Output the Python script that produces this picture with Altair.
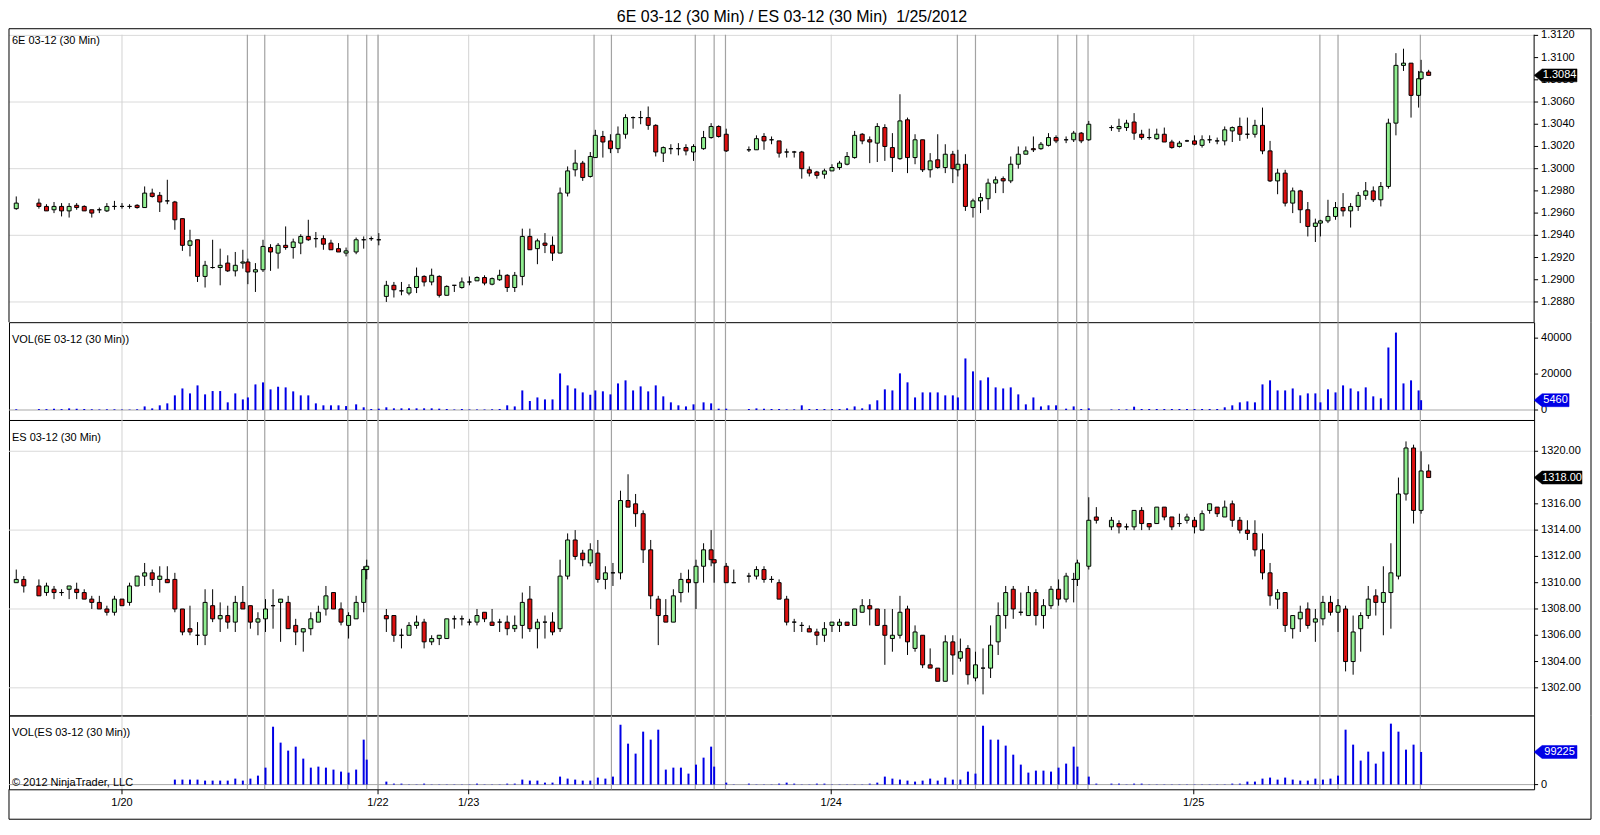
import altair as alt
import pandas as pd

FONT = "Liberation Sans"
TITLE = "6E 03-12 (30 Min) / ES 03-12 (30 Min) \u00a01/25/2012"
GREEN = "#90ee90"
RED = "#dc1010"
BLUE = "#0000e6"


def span(a, b, off=0.0):
    return [round(i + off, 3) for i in range(a, b + 1)]


# ---------------- bar time slots (30-min bars, pit-session 6E bars close at :20/:50) -------------
E_T = ([0] + span(3, 30) + span(31, 44, -1 / 3) + span(45, 48)
       + span(49, 76) + span(77, 90, -1 / 3) + span(91, 94)
       + span(97, 124) + span(125, 138, -1 / 3) + span(139, 142)
       + span(145, 172) + span(173, 186, -1 / 3) + [186, 187])

ES_T = (span(0, 1) + span(3, 46) + [46.4] + span(49, 92) + [92.4] + span(94, 95)
        + span(97, 140) + [140.5] + span(142, 143) + span(145, 187))

# ---------------- 6E 03-12 ----------------
E_OPEN = [1.2964, 1.2969, 1.2966, 1.2963, 1.2966, 1.2962, 1.2967, 1.2966, 1.2963, 1.2963,
          1.2962, 1.2966, 1.2966, 1.2966, 1.2967, 1.2965, 1.2978, 1.2976, 1.2971, 1.2970,
          1.2955, 1.2931, 1.2936, 1.2903, 1.2911, 1.2911, 1.2915, 1.2908, 1.2915, 1.2916,
          1.2907, 1.2909, 1.2929, 1.2924, 1.2931, 1.2929, 1.2933, 1.2939, 1.2937, 1.2937,
          1.2933, 1.2928, 1.2924, 1.2925, 1.2936, 1.2937, 1.2936,
          1.2885, 1.2895, 1.2890, 1.2888, 1.2893, 1.2903, 1.2898, 1.2903, 1.2886, 1.2895,
          1.2893, 1.2898, 1.2899, 1.2902, 1.2896, 1.2900, 1.2904, 1.2893, 1.2903, 1.2939,
          1.2928, 1.2933, 1.2931, 1.2924, 1.2978, 1.2999, 1.3005, 1.2993, 1.3010, 1.3029,
          1.3025, 1.3018, 1.3031, 1.3046, 1.3046, 1.3046, 1.3039, 1.3014, 1.3018, 1.3018,
          1.3019, 1.3015, 1.3018, 1.3028, 1.3038, 1.3031,
          1.3017, 1.3017, 1.3029, 1.3026, 1.3025, 1.3015, 1.3015, 1.3015, 1.2999, 1.2997,
          1.2995, 1.2998, 1.3001, 1.3004, 1.3010, 1.3031, 1.3026, 1.3023, 1.3037, 1.3019,
          1.3009, 1.3044, 1.3010, 1.3026, 1.2999, 1.3008, 1.3001, 1.3013, 1.2999, 1.3004,
          1.2965, 1.2971, 1.2973, 1.2987, 1.2991, 1.2989, 1.3004, 1.3013, 1.3018, 1.3018,
          1.3021, 1.3028, 1.3026, 1.3026, 1.3032, 1.3026,
          1.3037, 1.3036, 1.3037, 1.3042, 1.3031, 1.3028, 1.3027, 1.3031, 1.3024, 1.3020,
          1.3025, 1.3025, 1.3021, 1.3026, 1.3025, 1.3025, 1.3034, 1.3038, 1.3031, 1.3031,
          1.3039, 1.3016, 1.2989, 1.2996, 1.2969, 1.2980, 1.2963, 1.2948, 1.2951, 1.2953,
          1.2957, 1.2965, 1.2962, 1.2966, 1.2976, 1.2980, 1.2972, 1.2984, 1.3041, 1.3093,
          1.3095, 1.3066, 1.3081, 1.3087]
E_HIGH = [1.2975, 1.2973, 1.2968, 1.2970, 1.2969, 1.2969, 1.2969, 1.2967, 1.2963, 1.2965,
          1.2969, 1.2971, 1.2969, 1.2968, 1.2968, 1.2984, 1.2982, 1.2979, 1.2990, 1.2971,
          1.2955, 1.2945, 1.2936, 1.2917, 1.2936, 1.2928, 1.2922, 1.2925, 1.2927, 1.2919,
          1.2915, 1.2936, 1.2932, 1.2933, 1.2948, 1.2937, 1.2941, 1.2954, 1.2943, 1.2940,
          1.2936, 1.2933, 1.2929, 1.2938, 1.2939, 1.2939, 1.2942,
          1.2899, 1.2898, 1.2898, 1.2896, 1.2911, 1.2904, 1.2910, 1.2904, 1.2895, 1.2895,
          1.2902, 1.2903, 1.2903, 1.2904, 1.2902, 1.2909, 1.2905, 1.2907, 1.2946, 1.2946,
          1.2937, 1.2942, 1.2939, 1.2983, 1.3002, 1.3017, 1.3007, 1.3015, 1.3035, 1.3034,
          1.3031, 1.3038, 1.3049, 1.3047, 1.3052, 1.3056, 1.3040, 1.3020, 1.3022, 1.3023,
          1.3022, 1.3022, 1.3034, 1.3041, 1.3039, 1.3036,
          1.3020, 1.3030, 1.3032, 1.3029, 1.3025, 1.3018, 1.3016, 1.3016, 1.3002, 1.2998,
          1.3000, 1.3004, 1.3007, 1.3015, 1.3034, 1.3032, 1.3029, 1.3041, 1.3040, 1.3032,
          1.3067, 1.3046, 1.3031, 1.3026, 1.3014, 1.3031, 1.3022, 1.3016, 1.3017, 1.3013,
          1.2973, 1.2978, 1.2991, 1.2993, 1.2993, 1.3011, 1.3020, 1.3020, 1.3029, 1.3024,
          1.3032, 1.3030, 1.3029, 1.3034, 1.3033, 1.3043,
          1.3039, 1.3045, 1.3044, 1.3050, 1.3035, 1.3036, 1.3036, 1.3037, 1.3026, 1.3025,
          1.3026, 1.3030, 1.3030, 1.3030, 1.3028, 1.3038, 1.3038, 1.3046, 1.3046, 1.3044,
          1.3055, 1.3025, 1.3000, 1.2999, 1.2983, 1.2981, 1.2970, 1.2955, 1.2954, 1.2972,
          1.2970, 1.2978, 1.2969, 1.2979, 1.2988, 1.2984, 1.2988, 1.3045, 1.3104, 1.3108,
          1.3095, 1.3088, 1.3098, 1.3089]
E_LOW = [1.2963, 1.2964, 1.2962, 1.2960, 1.2957, 1.2956, 1.2963, 1.2962, 1.2956, 1.2960,
         1.2961, 1.2963, 1.2964, 1.2964, 1.2964, 1.2965, 1.2974, 1.2961, 1.2968, 1.2945,
         1.2926, 1.2921, 1.2898, 1.2893, 1.2910, 1.2895, 1.2907, 1.2903, 1.2910, 1.2896,
         1.2889, 1.2907, 1.2908, 1.2910, 1.2927, 1.2919, 1.2923, 1.2935, 1.2929, 1.2927,
         1.2927, 1.2925, 1.2921, 1.2923, 1.2928, 1.2935, 1.2931,
         1.2880, 1.2884, 1.2886, 1.2886, 1.2888, 1.2894, 1.2895, 1.2884, 1.2886, 1.2889,
         1.2892, 1.2895, 1.2899, 1.2895, 1.2895, 1.2899, 1.2889, 1.2889, 1.2895, 1.2927,
         1.2914, 1.2924, 1.2917, 1.2924, 1.2975, 1.2993, 1.2989, 1.2992, 1.3010, 1.3010,
         1.3014, 1.3014, 1.3027, 1.3036, 1.3040, 1.3035, 1.3011, 1.3006, 1.3013, 1.3012,
         1.3012, 1.3007, 1.3017, 1.3027, 1.3028, 1.3015,
         1.3015, 1.3017, 1.3017, 1.3022, 1.3010, 1.3010, 1.3010, 1.2991, 1.2993, 1.2991,
         1.2991, 1.2998, 1.2999, 1.3003, 1.3009, 1.3022, 1.3005, 1.3006, 1.3007, 1.2997,
         1.3008, 1.2996, 1.3004, 1.2997, 1.2992, 1.3000, 1.2996, 1.2987, 1.2993, 1.2962,
         1.2956, 1.2960, 1.2963, 1.2978, 1.2978, 1.2987, 1.3000, 1.3013, 1.3015, 1.3017,
         1.3020, 1.3023, 1.3023, 1.3024, 1.3023, 1.3025,
         1.3034, 1.3033, 1.3034, 1.3026, 1.3026, 1.3026, 1.3026, 1.3024, 1.3018, 1.3019,
         1.3024, 1.3021, 1.3019, 1.3023, 1.3022, 1.3021, 1.3024, 1.3025, 1.3027, 1.3028,
         1.3013, 1.2988, 1.2977, 1.2966, 1.2960, 1.2951, 1.2939, 1.2934, 1.2939, 1.2951,
         1.2954, 1.2957, 1.2947, 1.2962, 1.2972, 1.2970, 1.2966, 1.2982, 1.3030, 1.3088,
         1.3046, 1.3055, 1.3080, 1.3084]
E_CLOSE = [1.2969, 1.2966, 1.2962, 1.2966, 1.2962, 1.2966, 1.2965, 1.2962, 1.2960, 1.2963,
           1.2966, 1.2966, 1.2966, 1.2966, 1.2965, 1.2978, 1.2975, 1.2970, 1.2971, 1.2954,
           1.2931, 1.2935, 1.2903, 1.2913, 1.2911, 1.2913, 1.2908, 1.2913, 1.2916, 1.2907,
           1.2909, 1.2930, 1.2925, 1.2931, 1.2929, 1.2934, 1.2939, 1.2936, 1.2937, 1.2932,
           1.2927, 1.2925, 1.2926, 1.2936, 1.2936, 1.2937, 1.2936,
           1.2895, 1.2891, 1.2890, 1.2893, 1.2903, 1.2898, 1.2904, 1.2886, 1.2894, 1.2895,
           1.2898, 1.2898, 1.2902, 1.2897, 1.2901, 1.2904, 1.2893, 1.2904, 1.2939, 1.2927,
           1.2935, 1.2931, 1.2924, 1.2978, 1.2998, 1.3005, 1.2992, 1.3011, 1.3030, 1.3024,
           1.3018, 1.3031, 1.3046, 1.3046, 1.3046, 1.3039, 1.3015, 1.3019, 1.3018, 1.3018,
           1.3016, 1.3020, 1.3028, 1.3038, 1.3029, 1.3016,
           1.3017, 1.3027, 1.3025, 1.3026, 1.3014, 1.3015, 1.3015, 1.3000, 1.2996, 1.2994,
           1.2998, 1.3001, 1.3005, 1.3011, 1.3030, 1.3025, 1.3024, 1.3038, 1.3020, 1.3010,
           1.3043, 1.3010, 1.3026, 1.2999, 1.3007, 1.3001, 1.3013, 1.3000, 1.3004, 1.2966,
           1.2971, 1.2974, 1.2987, 1.2990, 1.2989, 1.3004, 1.3013, 1.3016, 1.3017, 1.3022,
           1.3028, 1.3025, 1.3026, 1.3032, 1.3025, 1.3040,
           1.3037, 1.3038, 1.3041, 1.3032, 1.3028, 1.3028, 1.3031, 1.3024, 1.3019, 1.3023,
           1.3025, 1.3022, 1.3026, 1.3026, 1.3025, 1.3035, 1.3037, 1.3031, 1.3031, 1.3039,
           1.3016, 1.2989, 1.2996, 1.2969, 1.2980, 1.2963, 1.2948, 1.2951, 1.2953, 1.2957,
           1.2965, 1.2962, 1.2966, 1.2976, 1.2980, 1.2972, 1.2984, 1.3041, 1.3093, 1.3095,
           1.3066, 1.3081, 1.3087, 1.3084]
E_VOL = [400, 500, 500, 700, 500, 900, 700, 550, 400, 300,
         400, 400, 250, 250, 400, 2000, 900, 2600, 3700, 8150,
         12000, 9250, 13700, 8700, 10550, 10550, 4260, 9250, 5900, 7000,
         14260, 15370, 11480, 12960, 12590, 10370, 8150, 8150, 3700, 2600,
         2600, 2600, 2200, 3150, 1500, 550, 740,
         1500, 930, 930, 930, 930, 930, 930, 740, 550, 300,
         550, 300, 300, 300, 400, 550, 2600, 2000, 10900, 5000,
         7000, 5900, 5900, 20370, 13700, 12000, 9800, 8500, 10900, 10400,
         8700, 14800, 16500, 10900, 13150, 10370, 13700, 7600, 4260, 2600,
         2000, 3150, 4260, 3700, 740, 740,
         550, 900, 740, 550, 550, 370, 370, 2600, 550, 550,
         550, 550, 550, 930, 2000, 930, 3150, 5400, 11500, 10900,
         20400, 15400, 7000, 9800, 9800, 9800, 8150, 8150, 7000, 28700,
         21500, 16500, 18150, 12600, 12000, 12600, 8700, 3150, 7000, 2000,
         2600, 2600, 740, 2000, 550, 930,
         300, 370, 370, 1850, 550, 550, 550, 550, 550, 550,
         550, 550, 550, 550, 550, 1500, 2600, 4260, 4800, 4260,
         14260, 16500, 10900, 10900, 12000, 8150, 9250, 9250, 4260, 11500,
         9800, 13700, 12000, 10400, 12600, 7600, 6500, 34800, 43100, 14800,
         16500, 10900, 5460, None]

# ---------------- ES 03-12 ----------------
ES_OPEN = [1310.0, 1310.25, 1309.75, 1309.25, 1309.5, 1309.25, 1309.5, 1309.5, 1309.25, 1308.75,
           1308.5, 1308.0, 1307.75, 1308.75, 1308.5, 1309.75, 1310.5, 1310.75, 1310.25, 1310.25,
           1310.25, 1308.0, 1306.5, 1306.0, 1306.0, 1308.25, 1307.25, 1307.5, 1307.0, 1308.5,
           1308.25, 1307.0, 1307.25, 1308.25, 1308.5, 1308.5, 1306.75, 1306.25, 1306.5, 1307.0,
           1308.0, 1309.25, 1308.0, 1306.75, 1307.25, 1308.5, 1311.0,
           1307.5, 1307.5, 1306.0, 1306.0, 1306.75, 1307.0, 1305.5, 1305.75, 1305.75, 1307.25,
           1307.25, 1307.0, 1307.0, 1307.75, 1307.0, 1307.0, 1307.0, 1306.5, 1306.75, 1308.75,
           1306.5, 1307.0, 1307.0, 1306.5, 1310.5, 1313.25, 1312.25, 1311.5, 1312.25, 1310.25,
           1310.75, 1310.75, 1316.25, 1316.0, 1315.25, 1312.5, 1308.75, 1307.5, 1307.0, 1309.25,
           1310.25, 1310.0, 1311.25, 1312.5, 1311.75, 1311.25, 1310.0,
           1310.5, 1310.5, 1311.0, 1310.25, 1310.0, 1308.75, 1307.0, 1306.75, 1306.5, 1306.25,
           1306.0, 1306.75, 1306.75, 1307.0, 1306.75, 1307.75, 1308.25, 1308.0, 1306.75, 1305.75,
           1306.0, 1308.0, 1305.0, 1306.0, 1303.75, 1303.5, 1302.5, 1305.5, 1304.25, 1305.0,
           1302.75, 1303.5, 1303.5, 1305.5, 1307.5, 1309.5, 1307.75, 1307.5, 1309.25, 1307.5,
           1308.25, 1309.5, 1308.75, 1310.25, 1310.25, 1311.25, 1315.0,
           1314.25, 1314.5, 1314.25, 1314.25, 1315.5, 1314.5, 1314.5, 1315.75, 1315.0, 1314.5,
           1314.75, 1314.75, 1314.0, 1315.5, 1315.75, 1315.0, 1316.0, 1314.75, 1314.0, 1313.75,
           1312.5, 1310.75, 1308.75, 1309.25, 1306.5, 1307.25, 1308.0, 1307.0, 1307.25, 1308.5,
           1307.75, 1308.0, 1304.0, 1306.5, 1307.5, 1309.0, 1308.5, 1309.25, 1310.5, 1316.75,
           1320.25, 1315.5, 1318.5]
ES_HIGH = [1311.0, 1310.5, 1310.25, 1310.0, 1309.75, 1309.5, 1309.75, 1310.0, 1309.5, 1309.0,
           1309.0, 1308.25, 1309.0, 1308.75, 1310.0, 1310.5, 1311.5, 1311.0, 1311.25, 1311.25,
           1310.75, 1308.0, 1308.25, 1307.0, 1309.5, 1309.5, 1308.5, 1308.25, 1309.0, 1309.75,
           1308.25, 1307.75, 1308.75, 1309.5, 1308.75, 1309.0, 1307.25, 1306.5, 1307.75, 1308.25,
           1309.75, 1309.25, 1308.5, 1307.75, 1309.0, 1311.25, 1311.75,
           1308.0, 1307.5, 1306.5, 1307.0, 1307.5, 1307.25, 1306.0, 1306.0, 1307.25, 1307.5,
           1307.5, 1307.25, 1308.0, 1307.75, 1308.0, 1307.25, 1307.5, 1307.5, 1309.25, 1309.75,
           1307.25, 1307.5, 1307.75, 1311.75, 1313.75, 1314.0, 1312.5, 1313.0, 1313.25, 1311.25,
           1311.5, 1317.0, 1318.25, 1316.75, 1315.5, 1313.25, 1309.0, 1308.75, 1309.5, 1310.75,
           1311.0, 1311.75, 1313.0, 1314.0, 1311.75, 1311.5, 1311.0,
           1310.75, 1311.25, 1311.25, 1310.5, 1310.25, 1309.0, 1307.25, 1307.0, 1306.75, 1306.5,
           1307.0, 1307.0, 1307.25, 1307.0, 1308.0, 1308.75, 1308.75, 1308.0, 1308.0, 1308.0,
           1309.0, 1308.25, 1306.75, 1306.0, 1305.0, 1303.5, 1306.0, 1306.0, 1305.75, 1305.25,
           1304.75, 1305.0, 1306.75, 1308.5, 1309.75, 1309.75, 1309.25, 1309.75, 1309.5, 1308.75,
           1309.75, 1310.25, 1310.75, 1310.75, 1311.75, 1316.5, 1315.75,
           1315.0, 1314.75, 1314.5, 1315.5, 1315.75, 1314.5, 1315.75, 1315.75, 1315.0, 1315.25,
           1315.25, 1315.0, 1315.5, 1316.0, 1315.75, 1316.25, 1316.25, 1315.0, 1314.75, 1314.75,
           1313.75, 1311.5, 1309.5, 1309.25, 1307.5, 1308.25, 1308.5, 1308.0, 1309.0, 1309.0,
           1308.75, 1308.25, 1307.5, 1307.75, 1309.75, 1309.5, 1311.25, 1313.0, 1318.0, 1320.75,
           1320.5, 1320.0, 1319.0]
ES_LOW = [1310.0, 1309.25, 1309.0, 1309.0, 1308.75, 1309.0, 1308.75, 1308.75, 1308.75, 1308.0,
          1308.0, 1307.5, 1307.5, 1308.25, 1308.25, 1309.75, 1309.75, 1309.75, 1309.25, 1310.0,
          1307.75, 1306.0, 1306.0, 1305.25, 1305.25, 1307.0, 1306.25, 1306.5, 1306.25, 1308.0,
          1306.5, 1306.0, 1306.25, 1306.5, 1305.5, 1306.5, 1305.25, 1304.75, 1306.0, 1307.0,
          1307.5, 1308.0, 1306.75, 1305.75, 1307.25, 1307.75, 1310.25,
          1306.25, 1305.5, 1305.0, 1306.0, 1306.5, 1305.0, 1305.25, 1305.25, 1305.75, 1306.5,
          1306.75, 1306.75, 1306.75, 1307.0, 1306.75, 1306.25, 1306.0, 1306.25, 1305.75, 1306.25,
          1305.0, 1305.75, 1306.0, 1306.25, 1310.25, 1311.75, 1311.25, 1311.25, 1310.0, 1309.5,
          1309.75, 1310.25, 1315.75, 1314.25, 1311.5, 1308.0, 1305.25, 1307.0, 1307.0, 1308.5,
          1309.25, 1308.0, 1310.0, 1311.25, 1310.0, 1310.0, 1310.0,
          1310.0, 1310.25, 1310.0, 1310.0, 1308.75, 1306.75, 1306.25, 1306.25, 1306.25, 1305.25,
          1305.5, 1306.25, 1306.25, 1306.75, 1306.75, 1307.75, 1306.75, 1306.75, 1303.75, 1304.75,
          1305.75, 1304.5, 1304.75, 1303.5, 1303.5, 1302.5, 1302.5, 1303.0, 1304.0, 1302.25,
          1302.5, 1301.5, 1302.75, 1304.5, 1306.5, 1307.25, 1307.5, 1307.5, 1306.75, 1306.5,
          1308.0, 1308.25, 1308.5, 1308.5, 1309.75, 1311.0, 1314.5,
          1314.0, 1313.75, 1314.0, 1314.0, 1314.0, 1314.0, 1314.5, 1314.75, 1314.0, 1314.25,
          1314.5, 1313.75, 1314.0, 1315.25, 1315.0, 1315.0, 1314.25, 1313.75, 1313.25, 1312.0,
          1310.25, 1308.25, 1308.0, 1306.25, 1305.75, 1306.25, 1306.5, 1305.5, 1306.75, 1307.5,
          1306.25, 1303.25, 1303.0, 1304.75, 1307.25, 1307.5, 1306.0, 1306.5, 1310.25, 1316.25,
          1314.5, 1315.25, 1318.0]
ES_CLOSE = [1310.25, 1309.75, 1309.0, 1309.75, 1309.25, 1309.25, 1309.75, 1309.25, 1308.75, 1308.5,
            1308.0, 1307.75, 1308.75, 1308.25, 1309.75, 1310.5, 1310.75, 1310.25, 1310.5, 1310.0,
            1308.0, 1306.25, 1306.25, 1306.0, 1308.5, 1307.25, 1307.5, 1307.0, 1308.5, 1308.0,
            1307.0, 1307.25, 1308.0, 1308.25, 1308.75, 1306.5, 1306.25, 1306.5, 1307.25, 1307.75,
            1309.0, 1308.0, 1307.0, 1307.5, 1308.5, 1311.0, 1311.25,
            1307.25, 1306.0, 1306.0, 1306.75, 1307.0, 1305.5, 1305.75, 1306.0, 1307.25, 1307.25,
            1307.25, 1307.0, 1307.5, 1307.25, 1306.75, 1307.0, 1306.5, 1306.75, 1308.5, 1306.5,
            1307.0, 1307.0, 1306.25, 1310.5, 1313.25, 1312.0, 1311.75, 1312.5, 1310.25, 1310.75,
            1310.75, 1316.25, 1315.75, 1315.25, 1312.5, 1309.0, 1307.5, 1307.0, 1309.0, 1310.25,
            1310.0, 1311.25, 1312.5, 1311.75, 1311.5, 1310.0, 1310.0,
            1310.5, 1311.0, 1310.25, 1310.25, 1308.75, 1307.0, 1307.0, 1306.75, 1306.25, 1306.0,
            1306.5, 1307.0, 1307.0, 1306.75, 1308.0, 1308.25, 1308.0, 1306.75, 1306.0, 1306.0,
            1307.75, 1305.5, 1306.25, 1303.75, 1303.5, 1302.5, 1305.5, 1304.5, 1304.75, 1303.0,
            1303.75, 1303.5, 1305.25, 1307.5, 1309.25, 1308.0, 1307.75, 1309.25, 1307.5, 1308.25,
            1309.5, 1308.75, 1310.5, 1310.25, 1311.5, 1314.75, 1314.75,
            1314.75, 1314.25, 1314.25, 1315.5, 1314.5, 1314.25, 1315.75, 1315.0, 1314.25, 1314.5,
            1315.0, 1314.25, 1315.25, 1316.0, 1315.25, 1315.75, 1314.75, 1314.0, 1313.75, 1312.5,
            1310.75, 1309.0, 1309.25, 1306.75, 1307.5, 1307.75, 1306.75, 1307.25, 1308.5, 1307.75,
            1308.25, 1304.0, 1306.25, 1307.5, 1308.75, 1308.5, 1309.25, 1310.75, 1316.75, 1320.25,
            1315.5, 1318.5, 1318.0]
ES_VOL = ([None] * 20 +
          [15200, 15200, 15200, 15200, 12150, 12150, 12150, 12150, 18200, 12150,
           18200, 27300, 51600, 176000, 127600, 103300, 115400, 79000, 51600, 54700,
           51600, 45600, 39500, 36450, 45600, 136700, 75900,
           9100, 3000, 3000, 800, 800, 3000, 800, 800, 800, 800,
           800, 800, 3000, 800, 800, 800, 3000, 3000, 15200, 12150,
           12150, 6000, 6000, 24300, 18200, 15200, 12150, 12150, 21300, 18200,
           24300, 182000, 124500, 94200, 161000, 136700, 167000, 45600, 51600, 51600,
           33400, 60750, 82000, 115400, 54700, 6000, 800,
           3000, 800, 800, 800, 3000, 6000, 3000, 800, 800, 3000,
           3000, 800, 800, 800, 800, 800, 3000, 6000, 24300, 18200,
           15200, 12150, 9100, 12150, 18200, 12150, 21300, 15200, 15200, 39500,
           33400, 179000, 136700, 136700, 118500, 91000, 60750, 36450, 42500, 42500,
           39500, 51600, 63800, 115400, 54700, 24300, 3000,
           3000, 3000, 800, 3000, 3000, 800, 800, 800, 800, 800,
           800, 800, 800, 800, 800, 800, 3000, 3000, 9100, 9100,
           18200, 21300, 15200, 21300, 15200, 12150, 12150, 18200, 15200, 18200,
           27300, 167000, 121500, 72900, 100200, 63800, 100200, 185300, 161000, 106300,
           121500, 99225, None])

# ---------------- guides ----------------
SESSION_T = [30.6, 32.9, 43.9, 46.4, 47.9, 76.5, 78.8, 89.9, 92.4, 93.9,
             124.6, 127.0, 137.9, 140.4, 141.9, 172.6, 175.0, 185.9]
DATE_T = [14.0, 47.9, 59.9, 107.9, 155.9]
DATE_LABELS = ["1/20", "1/22", "1/23", "1/24", "1/25"]

E_GRID = [1.2880, 1.2940, 1.3000, 1.3060, 1.3120]
E_TICKS = [1.2880, 1.2900, 1.2920, 1.2940, 1.2960, 1.2980, 1.3000, 1.3020, 1.3040, 1.3060,
           1.3080, 1.3100, 1.3120]
ES_GRID = [1302, 1308, 1314, 1320]
ES_TICKS = [1302, 1304, 1306, 1308, 1310, 1312, 1314, 1316, 1318, 1320]
E_VOL_TICKS = [0, 20000, 40000]
ES_VOL_TICKS = [0]

for name, lst, ref in [("E", [E_OPEN, E_HIGH, E_LOW, E_CLOSE, E_VOL], E_T),
                       ("ES", [ES_OPEN, ES_HIGH, ES_LOW, ES_CLOSE, ES_VOL], ES_T)]:
    for l in lst:
        assert len(l) == len(ref), (name, len(l), len(ref))


def frame(t, o, h, l, c, v):
    df = pd.DataFrame({"t": t, "o": o, "h": h, "l": l, "c": c, "v": v})
    df["dir"] = ["up" if cc >= oo else "down" for oo, cc in zip(df["o"], df["c"])]
    df["z"] = 0
    return df


df6 = frame(E_T, E_OPEN, E_HIGH, E_LOW, E_CLOSE, E_VOL)
dfs = frame(ES_T, ES_OPEN, ES_HIGH, ES_LOW, ES_CLOSE, ES_VOL)

# ---------------- layout ----------------
W = 1528
XS = alt.Scale(domain=[-0.3, 200.3], nice=False, zero=False)
H1, H2, H3, H4 = 288, 98, 296, 74
RF = W + 57          # outer frame, right edge
ONE = pd.DataFrame({"a": [0]})


def xnone():
    return alt.X("t:Q", scale=XS, axis=None)


def vrule(xpx, y0, y1):
    return alt.Chart(ONE).mark_rule(color="black", strokeWidth=1).encode(
        x=alt.value(xpx), y=alt.value(y0), y2=alt.value(y1))


def hrule(ypx, x0, x1):
    return alt.Chart(ONE).mark_rule(color="black", strokeWidth=1).encode(
        x=alt.value(x0), x2=alt.value(x1), y=alt.value(ypx))


def vlines():
    d = alt.Chart(pd.DataFrame({"t": DATE_T})).mark_rule(color="#d2d2d2", strokeWidth=1).encode(x=xnone())
    s = alt.Chart(pd.DataFrame({"t": SESSION_T})).mark_rule(color="#a3a3a3", strokeWidth=1.2).encode(x=xnone())
    return [d, s]


def right_axis(ticks, fmt, ys):
    df = pd.DataFrame({"p": ticks, "s": [fmt.format(v) for v in ticks]})
    tk = alt.Chart(df).mark_rule(color="black", strokeWidth=1).encode(
        x=alt.value(W), x2=alt.value(W + 4), y=alt.Y("p:Q", scale=ys, axis=None))
    lb = alt.Chart(df).mark_text(align="left", baseline="middle", font=FONT, fontSize=11,
                                 color="black").encode(
        x=alt.value(W + 7), y=alt.Y("p:Q", scale=ys, axis=None), text="s:N")
    return [tk, lb]


def box_shape(w, h, tip=8):
    hh = h / w
    tp = -1 + 2 * tip / w
    return f"M -1 0 L {tp:.3f} {-hh:.3f} L 1 {-hh:.3f} L 1 {hh:.3f} L {tp:.3f} {hh:.3f} Z"


def last_box(value, text, w, h, fill, ys, tip=8):
    df = pd.DataFrame({"p": [value], "s": [text]})
    shp = alt.Chart(df).mark_point(shape=box_shape(w, h, tip), size=w * w, filled=True, fill=fill,
                                   stroke=fill, strokeWidth=0.5, opacity=1).encode(
        x=alt.value(W + w / 2), y=alt.Y("p:Q", scale=ys, axis=None))
    txt = alt.Chart(df).mark_text(color="white", font=FONT, fontSize=11).encode(
        x=alt.value(W + (w + tip) / 2), y=alt.Y("p:Q", scale=ys, axis=None), text="s:N")
    return [shp, txt]


def panel_label(text, y):
    return alt.Chart(pd.DataFrame({"s": [text]})).mark_text(
        align="left", baseline="middle", font=FONT, fontSize=11, color="black").encode(
        x=alt.value(3), y=alt.value(y), text="s:N")


def price_layers(df, ydom, grid, ticks, fmt, label, label_y, box_text, box_w):
    ys = alt.Scale(domain=ydom, nice=False, zero=False)
    g = alt.Chart(pd.DataFrame({"p": grid})).mark_rule(color="#dadada", strokeWidth=1).encode(
        y=alt.Y("p:Q", scale=ys, axis=None))
    wick = alt.Chart(df).mark_rule(color="black", strokeWidth=1).encode(
        x=xnone(), y=alt.Y("l:Q", scale=ys, axis=None), y2="h:Q")
    body = alt.Chart(df).mark_bar(size=4, stroke="black", strokeWidth=1).encode(
        x=xnone(),
        y=alt.Y("o:Q", scale=ys, axis=None),
        y2="c:Q",
        color=alt.Color("dir:N", scale=alt.Scale(domain=["up", "down"], range=[GREEN, RED]), legend=None))
    last = df["c"].iloc[-1]
    return ([g] + vlines() + [wick, body, panel_label(label, label_y)] + right_axis(ticks, fmt, ys)
            + last_box(last, box_text, box_w, 13, "black", ys))


def vol_layers(df, ydom, ticks, label, box_w):
    ys = alt.Scale(domain=ydom, nice=False, zero=False)
    d = df.dropna(subset=["v"])
    zero = alt.Chart(pd.DataFrame({"p": [0]})).mark_rule(color="#a8a8a8", strokeWidth=1).encode(
        y=alt.Y("p:Q", scale=ys, axis=None))
    bars = alt.Chart(d).mark_bar(size=2, color=BLUE).encode(
        x=xnone(), y=alt.Y("v:Q", scale=ys, axis=None), y2="z:Q")
    last_v = d["v"].iloc[-1]
    return (vlines() + [zero, bars, panel_label(label, 18)] + right_axis(ticks, "{:d}", ys)
            + last_box(last_v, f"{int(last_v)}", box_w, 13, BLUE, ys))


# panel 1: 6E price
l1 = price_layers(df6, [1.28618, 1.31206], E_GRID, E_TICKS, "{:.4f}", "6E 03-12 (30 Min)", 6,
                  f"{E_CLOSE[-1]:.4f}", 43)
l1 += [vrule(0, -6, H1), vrule(W, 0, H1), vrule(RF, -6, H1), hrule(-6, 0, RF)]
p1 = alt.layer(*l1).properties(width=W, height=H1, view=alt.ViewBackground(strokeOpacity=0))

# panel 2: 6E volume
l2 = vol_layers(df6, [-5556, 48890], E_VOL_TICKS, "VOL(6E 03-12 (30 Min))", 35)
l2 += [vrule(RF, 0, H2)]
p2 = alt.layer(*l2).properties(width=W, height=H2)

# panel 3: ES price
l3 = price_layers(dfs, [1299.90, 1322.38], ES_GRID, ES_TICKS, "{:.2f}", "ES 03-12 (30 Min)", 18,
                  f"{ES_CLOSE[-1]:.2f}", 48)
l3 += [vrule(RF, 0, H3)]
p3 = alt.layer(*l3).properties(width=W, height=H3)

# panel 4: ES volume + date axis
l4 = vol_layers(dfs, [-14260, 210300], ES_VOL_TICKS, "VOL(ES 03-12 (30 Min))", 43)
dates = pd.DataFrame({"t": DATE_T, "s": DATE_LABELS})
xt = alt.Chart(dates).mark_rule(color="black", strokeWidth=1).encode(
    x=xnone(), y=alt.value(H4), y2=alt.value(H4 + 5))
xl = alt.Chart(dates).mark_text(baseline="top", align="center", font=FONT, fontSize=11,
                                color="black").encode(
    x=xnone(), y=alt.value(H4 + 8), text="s:N")
copy = panel_label("\u00a9 2012 NinjaTrader, LLC", 68)
l4 += [copy, xt, xl, vrule(RF, 0, H4 + 30), vrule(0, H4, H4 + 30), hrule(H4 + 30, 0, RF)]
p4 = alt.layer(*l4).properties(width=W, height=H4)

chart = alt.vconcat(p1, p2, p3, p4, spacing=0, bounds="flush").properties(
    title=alt.Title(TITLE, fontSize=16, font=FONT, fontWeight="normal", anchor="middle",
                    offset=3, dx=-8, color="black"),
    padding={"left": 0, "top": 0, "right": 0, "bottom": 0},
    background="white",
).configure_view(stroke="black", strokeWidth=1)

chart.save("out.html", embed_options={"renderer": "svg", "actions": False})
